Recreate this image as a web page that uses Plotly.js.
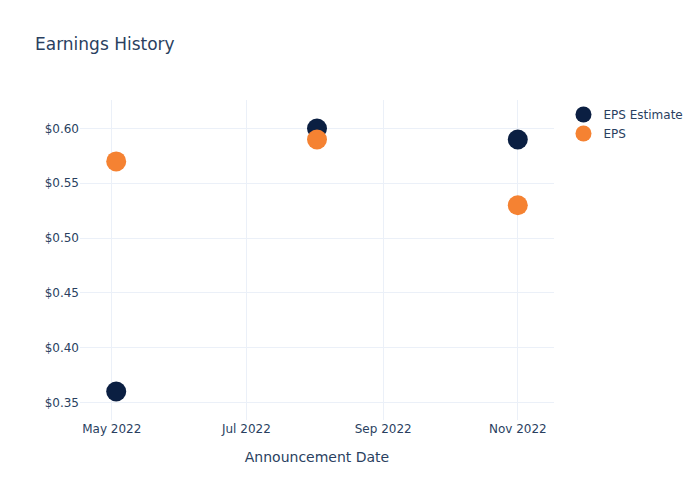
<!DOCTYPE html>
<html>
<head>
<meta charset="utf-8">
<script src="https://cdn.plot.ly/plotly-3.0.1.min.js"></script>
<style>html,body{margin:0;padding:0;background:#fff;}</style>
</head>
<body>
<div id="chart" style="width:700px;height:500px;"></div>
<script>
const dates = ["2022-05-03", "2022-08-02", "2022-11-01"];
const epsEstimate = [0.36, 0.60, 0.59];
const eps = [0.57, 0.59, 0.53];
const seriesNames = ["EPS Estimate", "EPS"];

const traces = [
  {x: dates, y: epsEstimate, name: seriesNames[0], type: "scatter", mode: "markers",
   marker: {color: "#0b1f42", size: 20}},
  {x: dates, y: eps, name: seriesNames[1], type: "scatter", mode: "markers",
   marker: {color: "#f58232", size: 20}}
];

const layout = {
  width: 700, height: 500,
  paper_bgcolor: "#fff", plot_bgcolor: "#fff",
  font: {family: "DejaVu Sans, verdana, arial, sans-serif", color: "#2a3f5f", size: 12},
  title: {text: "Earnings History", x: 0.05, xanchor: "left", font: {size: 17}},
  margin: {l: 80, r: 80, t: 100, b: 80},
  xaxis: {title: {text: "Announcement Date", standoff: 17}, automargin: true, type: "date",
          gridcolor: "#EBF0F8", zeroline: false,
          tickformat: "%b %Y", dtick: "M2", tick0: "2022-05-01"},
  yaxis: {gridcolor: "#EBF0F8", zeroline: false, tickprefix: "$", tickformat: ".2f", dtick: 0.05},
  legend: {font: {size: 12}},
  showlegend: true
};

Plotly.newPlot("chart", traces, layout, {displayModeBar: false});
</script>
</body>
</html>
